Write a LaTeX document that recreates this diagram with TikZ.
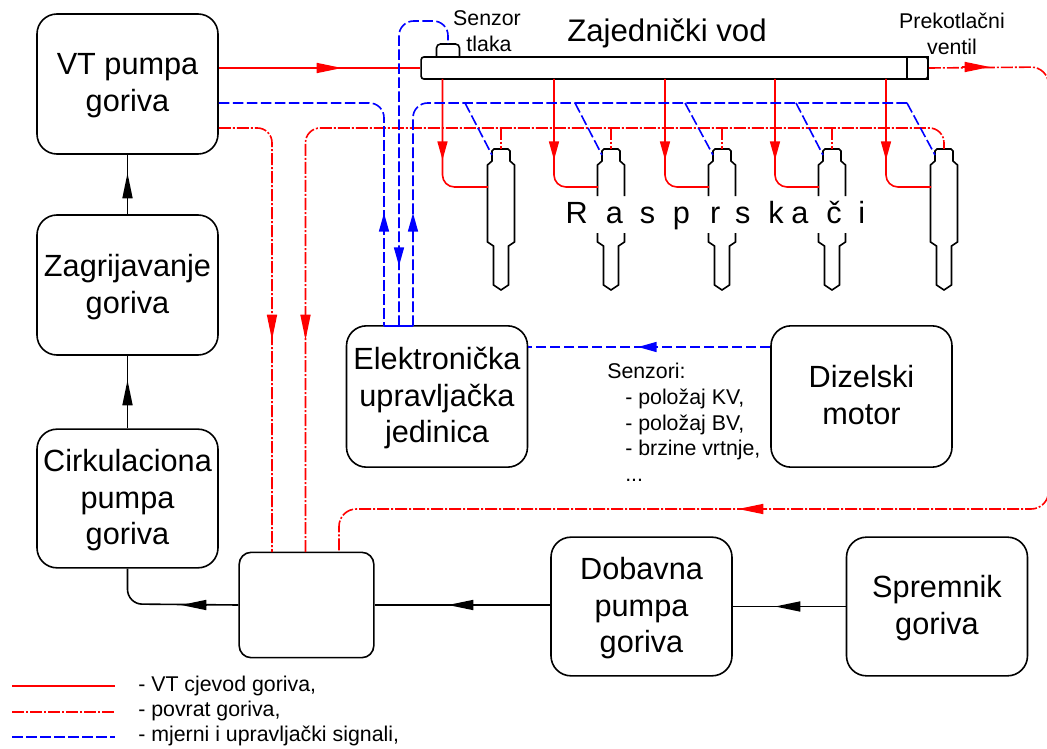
\documentclass[tikz,border=0pt]{standalone}
\usepackage{fontspec}
\setmainfont{Liberation Sans}
\usetikzlibrary{arrows.meta,calc}
\tikzset{
  box/.style={draw, very thick, rounded corners=15pt, align=center, inner sep=0pt, text depth=2pt, font=\fontsize{23}{27.5}\selectfont},
  vtline/.style={red, very thick},
  retline/.style={red, very thick, dash pattern=on 9pt off 1.5pt on 1.5pt off 1.5pt, rounded corners=11pt},
  sigline/.style={blue, very thick, dash pattern=on 8pt off 2.5pt, rounded corners=11pt},
  fuel/.style={black, very thick, rounded corners=11pt},
  tip/.style={-{Triangle[length=19pt,width=7.5pt]}},
  tipshort/.style={-{Triangle[length=14pt,width=7.5pt]}},
  lbl/.style={inner sep=0pt, font=\fontsize{16}{19.3}\selectfont}
}
% one injector: #1 name, #2 x position
\newcommand{\injector}[2]{
  \coordinate (#1) at (#2,149);
  \draw[very thick] (#2-7,149) -- (#2+7,149) -- (#2+9,151) -- (#2+9,161) -- (#2+13.5,165) -- (#2+13.5,242) -- (#2+7.5,246) -- (#2+7.5,285) -- (#2+3,288) -- (#2,290) -- (#2-3,288) -- (#2-7.5,285) -- (#2-7.5,246) -- (#2-13.5,242) -- (#2-13.5,165) -- (#2-9,161) -- (#2-9,151) -- cycle;
}
\newcommand{\injectorcut}[2]{
  \coordinate (#1) at (#2,149);
  \draw[very thick] (#2-13.5,196) -- (#2-13.5,165) -- (#2-9,161) -- (#2-9,151) -- (#2-7,149) -- (#2+7,149) -- (#2+9,151) -- (#2+9,161) -- (#2+13.5,165) -- (#2+13.5,196);
  \draw[very thick] (#2-13.5,233) -- (#2-13.5,242) -- (#2-7.5,246) -- (#2-7.5,285) -- (#2-3,288) -- (#2,290) -- (#2+3,288) -- (#2+7.5,285) -- (#2+7.5,246) -- (#2+13.5,242) -- (#2+13.5,233);
}
\begin{document}
\begin{tikzpicture}[x=0.75pt, y=-0.75pt]
\useasboundingbox (0,0) rectangle (1047,749);

% Blocks
\node[box, minimum width=135.75pt, minimum height=105pt] (vt) at (127.5,84) {VT pumpa\\goriva};
\node[box, minimum width=135.75pt, minimum height=105pt] (zag) at (127.5,285) {Zagrijavanje\\goriva};
\node[box, minimum width=135.75pt, minimum height=104pt] (cirk) at (127.5,498.5) {Cirkulaciona\\pumpa\\goriva};
\node[box, rounded corners=9pt, minimum width=101pt, minimum height=79pt] (razv) at (306.5,605) {};
\node[box, minimum width=135.75pt, minimum height=106pt] (ecu) at (437,396.5) {Elektronička\\upravljačka\\jedinica};
\node[box, minimum width=135.75pt, minimum height=106pt] (motor) at (861.5,396.5) {Dizelski\\motor};
\node[box, minimum width=135.75pt, minimum height=104pt] (dob) at (641.5,606.5) {Dobavna\\pumpa\\goriva};
\node[box, minimum width=135.75pt, minimum height=104pt] (sprem) at (937,606.5) {Spremnik\\goriva};

% Rail, valve and sensor
\node[draw, very thick, rounded corners=2pt, minimum width=380pt, minimum height=16.5pt, inner sep=0pt] (rail) at (674.5,68) {};
\node[draw, very thick, minimum width=16pt, minimum height=16.5pt, inner sep=0pt] (valve) at (917.5,68) {};
\draw[very thick, rounded corners=3pt] (436.5,57) -- (436.5,44) -- (459.5,44) -- (459.5,57);
\coordinate (sensor) at (448,44);

% Injectors
\injector{inja}{501}
\injectorcut{injb}{611}
\injectorcut{injc}{722}
\injectorcut{injd}{832}
\injector{inje}{944}

% Black fuel lines
\draw[fuel] (cirk.south) -- (127.5,604) -- (razv.west);
\draw[fuel] (dob.west |- razv.west) -- (razv.east);
\draw[fuel] (sprem.west |- dob.west) -- (dob.east);
\draw[fuel] (cirk.north) -- (zag.south);
\draw[fuel] (zag.north) -- (vt.south);
\draw[very thick, tip] (127.5,406) -- (127.5,380);
\draw[very thick, tip] (127.5,198) -- (127.5,173);
\draw[very thick, tip] (206,605) -- (181,605);
\draw[very thick, tip] (473,605) -- (448,605);
\draw[very thick, tip] (800,606.5) -- (775,606.5);

% High pressure lines
\draw[vtline] (vt.east |- rail.west) -- (rail.west);
\draw[vtline, tip] (316,68) -- (342,68);
\foreach \x/\xe in {442.5/488, 554/598, 665/709, 775/819, 886/931}
{
  \draw[vtline, rounded corners=9pt] (\x,79) -- (\x,187) -- (\xe,187);
  \draw[vtline, tipshort] (\x,142) -- (\x,160);
}

% Return lines
\draw[retline] (vt.east |- 0,128) -- (272,128) -- (272,552);
\draw[retline] (305.5,552) -- (305.5,128) -- (944,128) -- (inje);
\foreach \x in {inja, injb, injc, injd}
  \draw[retline] (\x |- 0,128) -- (\x);
\draw[retline, rounded corners=13pt] (valve.east) -- (1048.5,67) -- (1048.5,509) -- (339,509) -- (339,552);
\draw[red, very thick, tip] (272,315) -- (272,340);
\draw[red, very thick, tip] (305.5,315) -- (305.5,340);
\draw[red, very thick, tip] (962,67) -- (990,67);
\draw[red, very thick, tip] (764,509) -- (738,509);

% Signal lines
\draw[sigline] (vt.east |- 0,103) -- (384,103) -- (384,326);
\draw[sigline] (399,326) -- (399,21) -- (448,21) -- (sensor);
\draw[sigline] (413,326) -- (413,103) -- (907,103);
\foreach \x/\inj in {465/inja, 575/injb, 685/injc, 796/injd, 907/inje}
  \draw[sigline] (\x,103) -- ($(\inj)+(-9,6)$);
\draw[sigline] (motor.west |- 0,347) -- (ecu.east |- 0,347);
\draw[blue, very thick] (384,326) -- (413,326);
\draw[blue, very thick, tipshort] (384,232) -- (384,213);
\draw[blue, very thick, tipshort] (413,232) -- (413,213);
\draw[blue, very thick, tipshort] (399,248) -- (399,266);
\draw[blue, very thick, tipshort] (657,347) -- (638,347);

% Texts
\node[lbl, font=\fontsize{16}{20}\selectfont, align=center] (lsenzor) at (487,31) {Senzor\\\hspace*{3pt}tlaka};
\node[lbl, font=\fontsize{23.4}{25}\selectfont] (lvod) at (667,33) {Zajednički vod};
\node[lbl, font=\fontsize{16}{19.5}\selectfont, align=center] (lprek) at (952,34) {Prekotlačni\\ventil};
\node[lbl, font=\fontsize{23}{25}\selectfont] (lraspr) at (715.5,216) {R\hspace{13.5pt}a\hspace{12.75pt}s\hspace{13.3pt}p\hspace{15pt}r\hspace{11.25pt}s\hspace{13.3pt}k\hspace{5.8pt}a\hspace{13.5pt}č\hspace{12.5pt}i};
\node[lbl, anchor=north west, align=left] (lsenz) at (607,363) {Senzori:\\\hspace*{13.5pt}- položaj KV,\\\hspace*{13.5pt}- položaj BV,\\\hspace*{13.5pt}- brzine vrtnje,\\\hspace*{13.5pt}...};

% Legend
\coordinate (lega) at (12,686);
\coordinate (legb) at (12,712);
\coordinate (legc) at (12,737);
\draw[vtline] (lega) -- ++(103,0);
\draw[retline] (legb) -- ++(103,0);
\draw[sigline] (legc) -- ++(103,0);
\node[lbl, anchor=west] (lva) at (138,686) {- VT cjevod goriva,};
\node[lbl, anchor=west] (lvb) at (138,711) {- povrat goriva,};
\node[lbl, anchor=west] (lvc) at (138,736) {- mjerni i upravljački signali,};
\end{tikzpicture}
\end{document}
